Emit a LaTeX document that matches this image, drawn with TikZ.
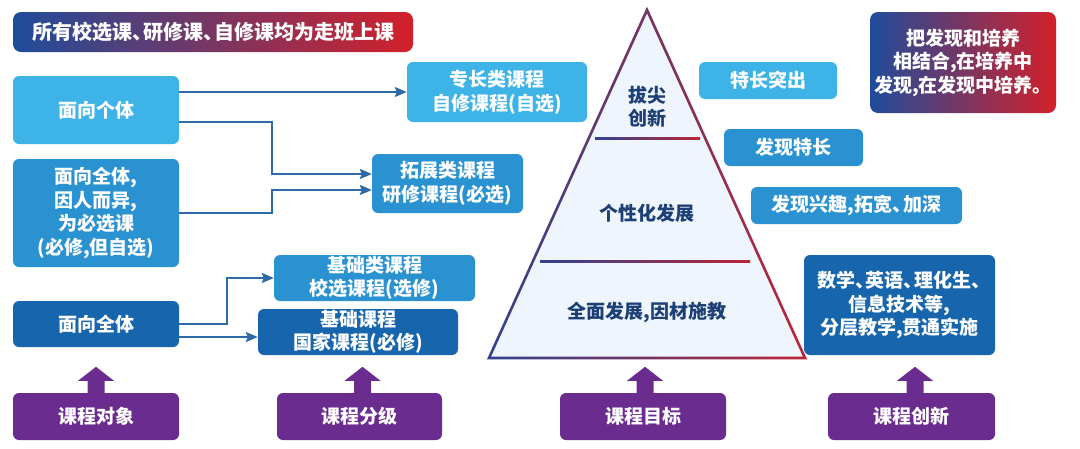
\documentclass[tikz,border=0pt]{standalone}
\usepackage{fontspec}
\setmainfont{Noto Sans CJK SC}
\usetikzlibrary{calc,arrows.meta}
\definecolor{lb}{HTML}{3DB3E7}
\definecolor{mb}{HTML}{2A92D1}
\definecolor{db}{HTML}{1766AD}
\definecolor{pu}{HTML}{6B2C8F}
\definecolor{lc}{HTML}{2D6AA8}
\definecolor{gblue}{HTML}{1F4C9B}
\definecolor{gmid}{HTML}{7A3A8B}
\definecolor{gred}{HTML}{D3202A}
\definecolor{tblue}{HTML}{30428F}
\definecolor{tmid}{HTML}{6E3584}
\definecolor{tred}{HTML}{BC2536}
\definecolor{tfill}{HTML}{EEF5FC}
\definecolor{ttext}{HTML}{1C3F75}
\newcommand\bxfont{\fontsize{19}{23.5}\selectfont\bfseries}
\newcommand\dun{\makebox[0.55em][l]{、}}
\newcommand\uparr[2]{%
  \fill[pu] ($(#1.north)+(#2-8.5,1)$) -- ++(0,-13) -- ++(-9.5,0) -- ($(#1.north)+(#2,-26)$)
    -- ($(#1.north)+(#2+18,-12)$) -- ++(-9.5,0) -- ++(0,13) -- cycle;}
\tikzset{
  box/.style={rounded corners=6pt, text=white, align=center, inner sep=0pt, font=\bxfont},
  lbox/.style={box, fill=lb},
  mbox/.style={box, fill=mb},
  dbox/.style={box, fill=db},
  pbox/.style={box, fill=pu},
  gbox/.style={box, rounded corners=8pt, left color=gblue, middle color=gmid, right color=gred},
  conn/.style={draw=lc, line width=1.8pt, -{Stealth[length=12pt,width=10pt,inset=2pt]}},
  tlabel/.style={text=ttext, align=center, font=\bxfont, inner sep=0pt}
}
\begin{document}
\begin{tikzpicture}[x=1pt,y=-1pt]
\useasboundingbox (0,0) rectangle (1080,448);
\fill[white] (0,0) rectangle (1080,448);

% triangle
\fill[tfill] (647,10) -- (489,358) -- (805,358) -- cycle;
\shade[left color=tblue, middle color=tmid, right color=tred, even odd rule]
  (647,6.8) -- (487,359.3) -- (807,359.3) -- cycle
  (647,13.2) -- (491,356.7) -- (803,356.7) -- cycle;
\shade[left color=tblue, middle color=tmid, right color=tred] (595,137) rectangle (700,139.4);
\shade[left color=tblue, middle color=tmid, right color=tred] (540,260) rectangle (750,262.4);
\node[tlabel] (t1) at (647,107) {拔尖\\创新};
\node[tlabel] (t2) at (647,213) {个性化发展};
\node[tlabel] (t3) at (647,312) {全面发展,因材施教};

% left boxes
\node[gbox, minimum width=400, minimum height=40] (banner) at (213,32) {\fontsize{20}{24}\selectfont 所有校选课\dun 研修课\dun 自修课均为走班上课};
\node[lbox, minimum width=166, minimum height=68] (ind) at (96,110) {面向个体};
\node[mbox, minimum width=166, minimum height=108] (mix) at (96,213) {面向全体,\\因人而异,\\为必选课\\(必修,但自选)};
\node[dbox, minimum width=166, minimum height=46] (all) at (96,324) {面向全体};
\node[pbox, minimum width=166, minimum height=47] (p1) at (96,416.5) {课程对象};

\node[lbox, minimum width=180, minimum height=60] (spec) at (497,92) {专长类课程\\自修课程(自选)};
\node[mbox, minimum width=151, minimum height=59] (ext) at (447.5,183.5) {拓展类课程\\研修课程(必选)};
\node[mbox, minimum width=201, minimum height=46] (basic) at (374.5,278) {\fontsize{19}{22}\selectfont 基础类课程\\\fontsize{19}{22}\selectfont 校选课程(选修)};
\node[dbox, minimum width=200, minimum height=46] (nat) at (358,332) {\fontsize{19}{23}\selectfont 基础课程\\\fontsize{19}{23}\selectfont 国家课程(必修)};
\node[pbox, minimum width=165, minimum height=47] (p2) at (359.5,416.5) {课程分级};

\node[pbox, minimum width=166, minimum height=47] (p3) at (643,416.5) {课程目标};

% right boxes
\node[lbox, minimum width=138, minimum height=37] (tc) at (768,80.5) {特长突出};
\node[mbox, minimum width=139, minimum height=37] (fs) at (793.5,147.5) {发现特长};
\node[mbox, minimum width=211, minimum height=37] (fi) at (856.5,205.5) {发现兴趣,拓宽\dun 加深};
\node[gbox, minimum width=186, minimum height=101] (rg) at (963,62.5) {\fontsize{19}{25}\selectfont 把发现和培养\\\fontsize{19}{25}\selectfont 相结合,在培养中\\\fontsize{19}{25}\selectfont 发现,在发现中培养。};
\node[dbox, minimum width=191, minimum height=100] (math) at (899.5,305) {\fontsize{19}{24.5}\selectfont 数学\dun 英语\dun 理化生\dun\\\fontsize{19}{24.5}\selectfont 信息技术等,\\\fontsize{19}{24.5}\selectfont 分层教学,贯通实施};
\node[pbox, minimum width=167, minimum height=47] (p4) at (911.5,416.5) {课程创新};

% connectors
\draw[conn] (ind.east |- spec.west) -- (spec.west);
\draw[conn] ($(ind.east)+(0,12)$) -- (272,122) |- ($(ext.west)+(0,-9.5)$);
\draw[conn] (mix.east) -- (272,213) |- ($(ext.west)+(0,6.5)$);
\draw[conn] (all.east) -- (227,324) |- (basic.west);
\draw[conn] ($(all.east)+(0,13)$) -- ($(nat.west)+(0,5)$);

% block arrows
\uparr{p1}{0}
\uparr{p2}{3}
\uparr{p3}{2}
\uparr{p4}{3.5}
\end{tikzpicture}
\end{document}
